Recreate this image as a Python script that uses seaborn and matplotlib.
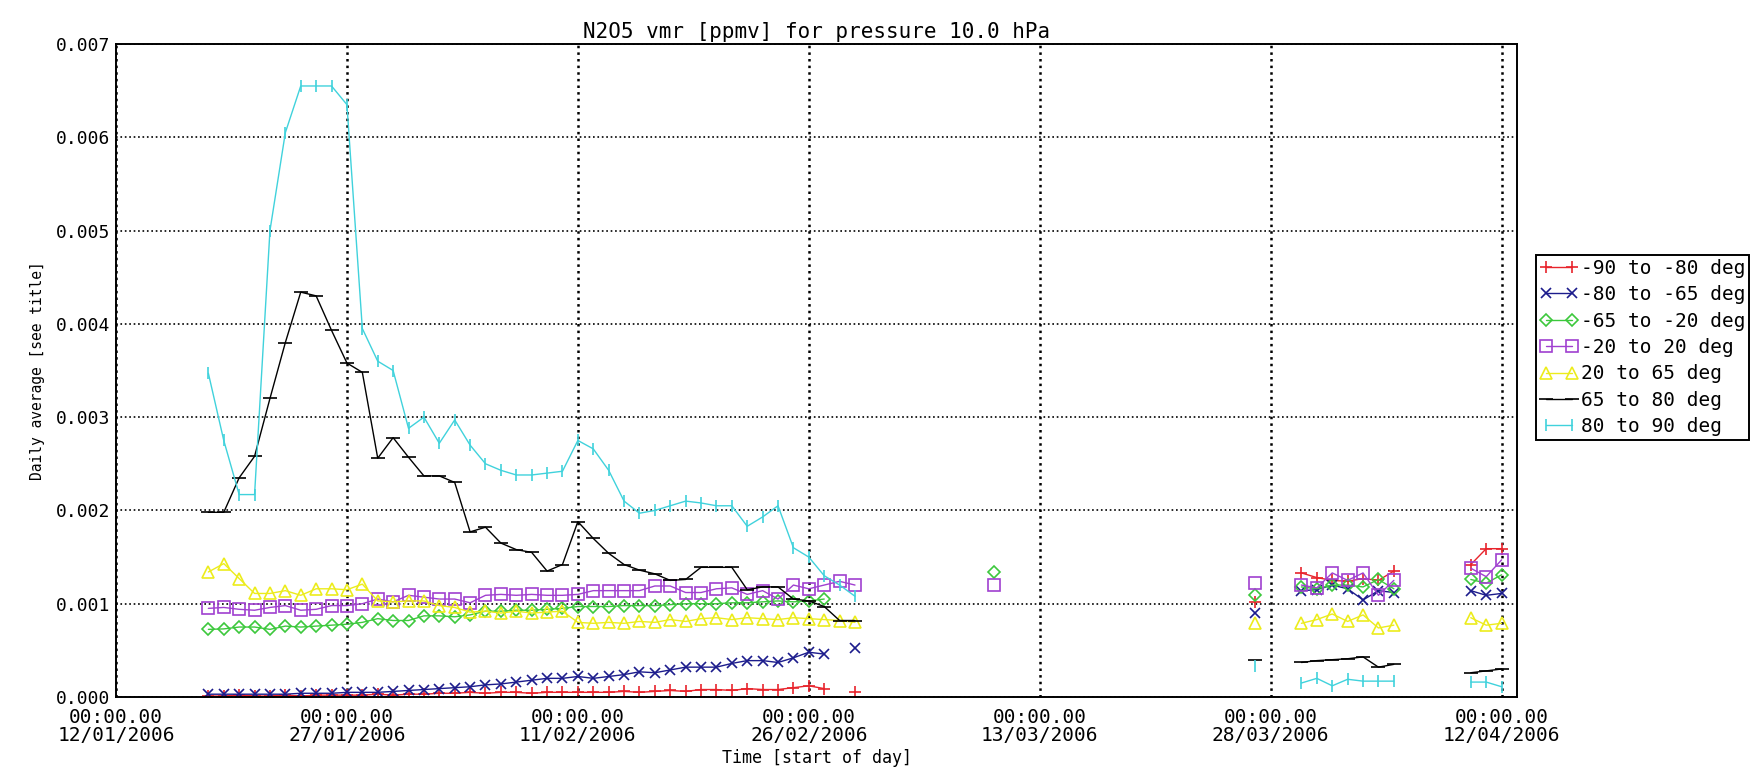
import pandas as pd
import matplotlib
matplotlib.use("Agg")
import matplotlib.pyplot as plt
import matplotlib.dates as mdates
from matplotlib.lines import Line2D
import seaborn as sns

# --- data (daily averages, units of 1e-3 ppmv) ---
run_days = pd.date_range("2006-01-18", "2006-03-01", freq="D")
extra_days = pd.to_datetime([
    "2006-03-10", "2006-03-27",
    "2006-03-30", "2006-03-31", "2006-04-01", "2006-04-02", "2006-04-03", "2006-04-04", "2006-04-05",
    "2006-04-10", "2006-04-11", "2006-04-12",
])

bands = ["-90 to -80 deg", "-80 to -65 deg", "-65 to -20 deg", "-20 to 20 deg",
         "20 to 65 deg", "65 to 80 deg", "80 to 90 deg"]

red_run = [0.01, 0.01, 0.02, 0.01, 0.01, 0.02, 0.01, 0.02, 0.02, 0.02, 0.02, 0.03, 0.02, 0.03, 0.03,
           0.04, 0.04, 0.05, 0.04, 0.05, 0.05, 0.04, 0.05, 0.05, 0.05, 0.05, 0.05, 0.06, 0.05, 0.06,
           0.07, 0.06, 0.08, 0.08, 0.07, 0.09, 0.08, 0.08, 0.10, 0.12, 0.09, None, 0.05]
red_extra = [None, 1.02, 1.33, 1.28, 1.25, 1.24, 1.27, 1.25, 1.35, 1.42, 1.59, 1.59]

blue_run = [0.03, 0.03, 0.03, 0.03, 0.03, 0.03, 0.04, 0.04, 0.04, 0.05, 0.05, 0.05, 0.06, 0.07, 0.08,
            0.09, 0.10, 0.11, 0.13, 0.14, 0.16, 0.18, 0.20, 0.20, 0.22, 0.20, 0.22, 0.24, 0.27, 0.26,
            0.29, 0.32, 0.32, 0.32, 0.36, 0.39, 0.39, 0.37, 0.42, 0.48, 0.46, None, 0.52]
blue_extra = [None, 0.90, 1.14, 1.15, 1.20, 1.16, 1.04, 1.14, 1.12, 1.14, 1.09, 1.11]

green_run = [0.725, 0.73, 0.75, 0.75, 0.725, 0.76, 0.75, 0.76, 0.77, 0.78, 0.80, 0.84, 0.82, 0.82,
             0.87, 0.87, 0.86, 0.88, 0.92, 0.92, 0.93, 0.93, 0.94, 0.95, 0.97, 0.97, 0.97, 0.98,
             0.98, 0.98, 0.99, 1.00, 1.00, 1.00, 1.01, 1.01, 1.02, 1.03, 1.02, 1.03, 1.05, None, None]
green_extra = [1.34, 1.09, 1.18, 1.16, 1.20, 1.20, 1.18, 1.26, 1.16, 1.26, 1.22, 1.31]

purple_run = [0.95, 0.96, 0.94, 0.93, 0.96, 0.98, 0.93, 0.94, 0.98, 0.98, 1.00, 1.05, 1.02, 1.09,
              1.07, 1.05, 1.05, 1.01, 1.09, 1.10, 1.09, 1.10, 1.09, 1.09, 1.10, 1.14, 1.14, 1.14,
              1.14, 1.19, 1.19, 1.12, 1.12, 1.16, 1.17, 1.10, 1.14, 1.05, 1.20, 1.16, 1.20, 1.24, 1.20]
purple_extra = [1.20, 1.22, 1.20, 1.17, 1.33, 1.25, 1.33, 1.09, 1.25, 1.38, 1.29, 1.47]

yellow_run = [1.34, 1.43, 1.27, 1.11, 1.11, 1.14, 1.09, 1.16, 1.16, 1.15, 1.21, 1.03, 1.02, 1.03,
              1.03, 0.98, 0.96, 0.91, 0.92, 0.90, 0.92, 0.90, 0.91, 0.92, 0.80, 0.79, 0.80, 0.79,
              0.81, 0.80, 0.83, 0.81, 0.84, 0.85, 0.83, 0.85, 0.84, 0.83, 0.85, 0.84, 0.83, 0.82, 0.80]
yellow_extra = [None, 0.79, 0.79, 0.83, 0.89, 0.81, 0.88, 0.74, 0.77, 0.85, 0.77, 0.79]

black_run = [1.98, 1.98, 2.35, 2.58, 3.20, 3.80, 4.34, 4.30, 3.93, 3.58, 3.48, 2.56, 2.78, 2.57,
             2.37, 2.37, 2.30, 1.77, 1.82, 1.65, 1.58, 1.55, 1.35, 1.42, 1.88, 1.70, 1.54, 1.42,
             1.36, 1.32, 1.25, 1.26, 1.39, 1.39, 1.39, 1.15, 1.18, 1.18, 1.05, 1.03, 0.97, 0.82, 0.82]
black_extra = [None, 0.40, 0.37, 0.39, 0.40, 0.41, 0.43, 0.32, 0.35, 0.26, 0.28, 0.30]

cyan_run = [3.47, 2.75, 2.17, 2.17, 5.00, 6.05, 6.55, 6.55, 6.55, 6.35, 3.95, 3.60, 3.50, 2.88,
            3.00, 2.72, 2.97, 2.70, 2.50, 2.43, 2.38, 2.38, 2.40, 2.42, 2.75, 2.66, 2.43, 2.10,
            1.97, 2.00, 2.05, 2.10, 2.08, 2.05, 2.05, 1.83, 1.93, 2.05, 1.60, 1.50, 1.30, 1.20, 1.08]
cyan_extra = [None, 0.33, 0.15, 0.20, 0.12, 0.19, 0.17, 0.17, 0.17, 0.16, 0.16, 0.11]

tick_dates = pd.to_datetime(["2006-01-12", "2006-01-27", "2006-02-11", "2006-02-26",
                             "2006-03-13", "2006-03-28", "2006-04-12"])
y_ticks = [0.000, 0.001, 0.002, 0.003, 0.004, 0.005, 0.006, 0.007]

# --- style per band (IDL-like symbols) ---
styles = {
    bands[0]: dict(color="#e8242c", marker="+", ms=8),
    bands[1]: dict(color="#1c1c8c", marker="x", ms=7),
    bands[2]: dict(color="#3cc83c", marker="D", ms=6),
    bands[3]: dict(color="#a040d0", marker="s", ms=8),
    bands[4]: dict(color="#ecec1c", marker="^", ms=8),
    bands[5]: dict(color="black", marker="_", ms=10),
    bands[6]: dict(color="#40d2dc", marker="|", ms=8),
}

days = list(run_days) + list(extra_days)
wide = pd.DataFrame({
    "date": days,
    bands[0]: red_run + red_extra,
    bands[1]: blue_run + blue_extra,
    bands[2]: green_run + green_extra,
    bands[3]: purple_run + purple_extra,
    bands[4]: yellow_run + yellow_extra,
    bands[5]: black_run + black_extra,
    bands[6]: cyan_run + cyan_extra,
})
df = wide.melt(id_vars="date", var_name="band", value_name="vmr").dropna()
df["vmr"] = df["vmr"].astype(float) * 1e-3

sns.set_theme(style="white")
plt.rcParams["font.family"] = ["DejaVu Sans Mono", "DejaVu Sans"]
plt.rcParams["text.color"] = "black"
plt.rcParams["axes.labelcolor"] = "black"

W, H = 1759, 782
fig = plt.figure(figsize=(W / 100, H / 100), dpi=100)
ax = fig.add_axes([116 / W, 85 / H, (1517 - 116) / W, (697 - 44) / H])

for band in bands:
    sub = df[df["band"] == band].sort_values("date").copy()
    # break the line wherever a day is missing
    sub["seg"] = (sub["date"].diff() > pd.Timedelta("1D")).cumsum()
    st = styles[band]
    sns.lineplot(data=sub, x="date", y="vmr", units="seg", estimator=None, ax=ax,
                 color=st["color"], marker=st["marker"], markersize=st["ms"],
                 markerfacecolor="none", mec=st["color"], mew=1.2,
                 linewidth=1.0, legend=False)

ax.set_xlim(pd.Timestamp("2006-01-12"), pd.Timestamp("2006-04-13"))
ax.set_ylim(0, 0.007)
ax.set_xticks(tick_dates)
ax.xaxis.set_major_formatter(mdates.DateFormatter("%H:%M.00\n%d/%m/%Y"))
ax.set_yticks(y_ticks)
ax.yaxis.set_major_formatter(matplotlib.ticker.FormatStrFormatter("%.3f"))
ax.tick_params(length=0, colors="black")
ax.tick_params(axis="y", pad=4, labelsize=13)
ax.tick_params(axis="x", pad=8, labelsize=14)
for lab in ax.get_xticklabels():
    lab.set_linespacing(0.9)

ax.xaxis.grid(True, color="black", linestyle=":", linewidth=1.8)
ax.yaxis.grid(True, color="black", linestyle=":", linewidth=1.2)
ax.set_axisbelow(True)
for sp in ax.spines.values():
    sp.set_color("black")
    sp.set_linewidth(1.4)

ax.set_title("N2O5 vmr [ppmv] for pressure 10.0 hPa", fontsize=15, pad=4)
ax.set_xlabel("Time [start of day]", fontsize=12, labelpad=3)
ax.set_ylabel("Daily average [see title]", fontsize=10.5, labelpad=8)

handles = [Line2D([], [], color=styles[b]["color"], marker=styles[b]["marker"],
                  markersize=styles[b]["ms"], markerfacecolor="none",
                  markeredgecolor=styles[b]["color"], markeredgewidth=1.2, linewidth=1.0)
           for b in bands]
leg = fig.legend(handles, bands, loc="upper left", bbox_to_anchor=(1536 / W, 1 - 255 / H),
                 numpoints=2, fontsize=14, frameon=True, fancybox=False, framealpha=1,
                 edgecolor="black", borderaxespad=0, borderpad=0.2, labelspacing=0.38,
                 handlelength=1.95, handletextpad=0.15)
leg.get_frame().set_linewidth(1.4)

fig.savefig("out.png", dpi=100)
